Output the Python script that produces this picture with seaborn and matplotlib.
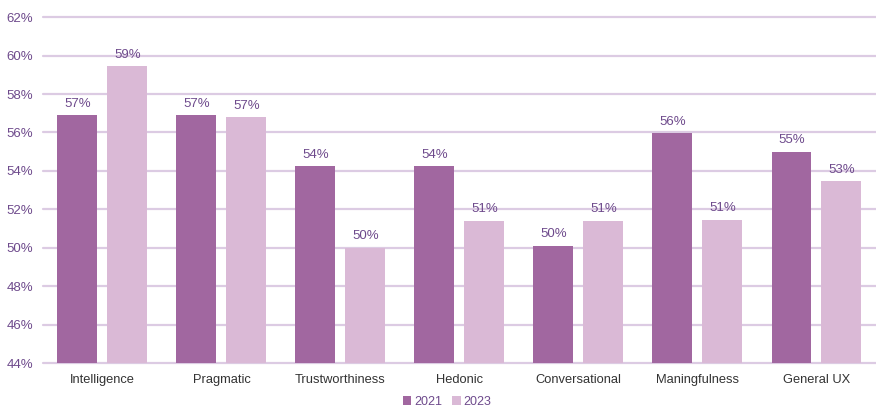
import matplotlib
matplotlib.use("Agg")
import matplotlib.pyplot as plt
import seaborn as sns
import pandas as pd
from matplotlib.patches import Patch

categories = ["Intelligence", "Pragmatic", "Trustworthiness", "Hedonic",
              "Conversational", "Maningfulness", "General UX"]
years = ["2021", "2023"]
values_2021 = [56.9, 56.9, 54.25, 54.25, 50.1, 55.95, 55.0]
values_2023 = [59.45, 56.8, 50.0, 51.4, 51.4, 51.45, 53.45]
y_ticks = [44, 46, 48, 50, 52, 54, 56, 58, 60, 62]

colors = {"2021": "#A167A0", "2023": "#DAB9D6"}
text_purple = "#6E4A8C"
grid_color = "#DCCBE3"

df = pd.DataFrame({
    "category": categories * 2,
    "year": ["2021"] * len(categories) + ["2023"] * len(categories),
    "value": values_2021 + values_2023,
})

sns.set_theme(style="white")
plt.rcParams["font.family"] = ["Liberation Sans", "DejaVu Sans"]

fig = plt.figure(figsize=(8.76, 4.08), dpi=100)
ax = fig.add_axes([0.049, 0.110, 0.951, 0.848])

sns.barplot(data=df, x="category", y="value", hue="year", order=categories,
            hue_order=years, palette=colors, width=0.84, gap=0.2,
            saturation=1, legend=False, ax=ax, zorder=3,
            linewidth=0, edgecolor="none")

ax.set_ylim(44, 62)
ax.set_yticks(y_ticks)
ax.set_yticklabels([f"{t}%" for t in y_ticks], color=text_purple, fontsize=9.5)
ax.set_xlim(-0.5, len(categories) - 0.5)
ax.tick_params(axis="x", labelsize=9.3, colors="#333333", length=0, pad=8)
ax.tick_params(axis="y", length=0, pad=7)
ax.set_xlabel("")
ax.set_ylabel("")
for s in ax.spines.values():
    s.set_visible(False)
for t in y_ticks:
    ax.axhline(t, color=grid_color, lw=1.6, zorder=1, clip_on=False)

for cont in ax.containers:
    for bar in cont:
        h = bar.get_height()
        ax.annotate(f"{h:.0f}%", (bar.get_x() + bar.get_width() / 2, h),
                    xytext=(0, 4), textcoords="offset points", ha="center",
                    va="bottom", fontsize=9.5, color=text_purple)

handles = [Patch(facecolor=colors[y], edgecolor="none", label=y) for y in years]
fig.legend(handles=handles, loc="lower center", bbox_to_anchor=(0.51, -0.028),
           ncol=2, frameon=False, fontsize=9, handlelength=0.7, handleheight=0.7,
           handletextpad=0.2, columnspacing=0.8, labelcolor=text_purple)

fig.savefig("out.png", dpi=100)
